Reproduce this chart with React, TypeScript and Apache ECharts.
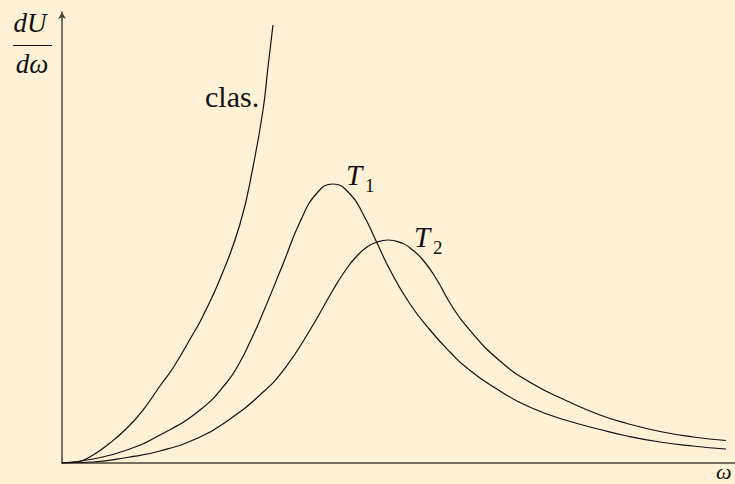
import React, { useEffect, useRef } from "react";
import * as echarts from "echarts";

// Spectral energy density dU/dω: classical (Rayleigh–Jeans) curve and two Planck curves.
const classicalOmega = [0, 0.223, 0.461, 0.713, 0.966, 1.204, 1.456, 1.649, 1.947, 2.08, 2.348, 2.645, 2.838, 2.987, 3.061, 3.135];
const classicalValue = [0, 0.022, 0.177, 0.443, 0.776, 1.175, 1.707, 2.106, 2.86, 3.215, 4.08, 5.299, 6.563, 7.827, 8.78, 9.712];

const t1Omega = [0, 0.461, 0.966, 1.456, 2.051, 2.452, 2.645, 2.793, 2.942, 3.284, 3.536, 3.789, 4.027, 4.279, 4.473, 4.681, 4.874, 5.171, 5.468, 5.765, 6.018, 6.508, 6.999, 7.504, 7.994, 8.395, 8.886, 9.376, 9.866];
const t1Value = [0, 0.089, 0.288, 0.621, 1.175, 1.796, 2.239, 2.683, 3.171, 4.412, 5.344, 5.987, 6.186, 5.965, 5.521, 4.878, 4.279, 3.525, 2.949, 2.461, 2.106, 1.596, 1.208, 0.942, 0.743, 0.599, 0.466, 0.377, 0.31];

const t2Omega = [0, 0.461, 0.966, 1.456, 2.051, 2.452, 2.942, 3.314, 3.685, 4.027, 4.235, 4.383, 4.532, 4.681, 4.844, 5.067, 5.171, 5.364, 5.572, 5.765, 6.018, 6.508, 6.999, 7.504, 7.994, 8.395, 8.886, 9.376, 9.866];
const t2Value = [0, 0.022, 0.122, 0.266, 0.576, 0.931, 1.508, 2.106, 2.949, 3.836, 4.324, 4.59, 4.789, 4.9, 4.945, 4.867, 4.767, 4.501, 4.058, 3.548, 3.016, 2.262, 1.752, 1.375, 1.064, 0.876, 0.698, 0.576, 0.499];

const BG = "#fef1d5";
const INK = "#111111";
const SERIF = "Liberation Serif";

const pairs = (xs: number[], ys: number[]) => xs.map((x, i) => [x, ys[i]]);

const curve = (name: string, xs: number[], ys: number[]) => ({
  name,
  type: "line",
  data: pairs(xs, ys),
  showSymbol: false,
  smooth: 0.5,
  lineStyle: { color: INK, width: 1.2 },
  silent: true,
});

const text = (x: number, y: number, s: string, size: number, italic: boolean, align = "left") => ({
  type: "text",
  x,
  y,
  style: {
    text: s,
    fill: INK,
    fontFamily: SERIF,
    fontSize: size,
    fontStyle: italic ? "italic" : "normal",
    align,
    verticalAlign: "middle",
  },
});

export default function App() {
  const ref = useRef<HTMLDivElement>(null);

  useEffect(() => {
    if (!ref.current) return;
    const chart = echarts.init(ref.current, null, { renderer: "svg" });
    chart.setOption({
      animation: false,
      backgroundColor: BG,
      grid: { left: 62, right: 0, top: 12, bottom: 21 },
      xAxis: {
        type: "value",
        min: 0,
        max: 10,
        axisLine: { show: true, lineStyle: { color: "#4a4538", width: 1.5 } },
        axisTick: { show: false },
        axisLabel: { show: false },
        splitLine: { show: false },
      },
      yAxis: {
        type: "value",
        min: 0,
        max: 10,
        axisLine: {
          show: true,
          symbol: ["none", "arrow"],
          symbolSize: [6, 7],
          lineStyle: { color: "#4a4538", width: 1.5 },
        },
        axisTick: { show: false },
        axisLabel: { show: false },
        splitLine: { show: false },
      },
      series: [
        curve("clas.", classicalOmega, classicalValue),
        curve("T1", t1Omega, t1Value),
        curve("T2", t2Omega, t2Value),
      ],
      graphic: [
        text(30, 23, "dU", 27, true, "center"),
        { type: "line", shape: { x1: 13, y1: 45.5, x2: 52, y2: 45.5 }, style: { stroke: INK, lineWidth: 1.1 } },
        text(32, 64, "dω", 27, true, "center"),
        text(205, 96, "clas.", 30, false),
        text(346, 175, "T", 29, true),
        text(365, 185, "1", 19, false),
        text(414, 237, "T", 29, true),
        text(433, 247, "2", 19, false),
        text(716, 471, "ω", 22, true),
      ],
    });
    return () => chart.dispose();
  }, []);

  return (
    <div
      ref={ref}
      style={{ position: "fixed", left: 0, top: 0, width: 735, height: 484, background: BG }}
    />
  );
}
